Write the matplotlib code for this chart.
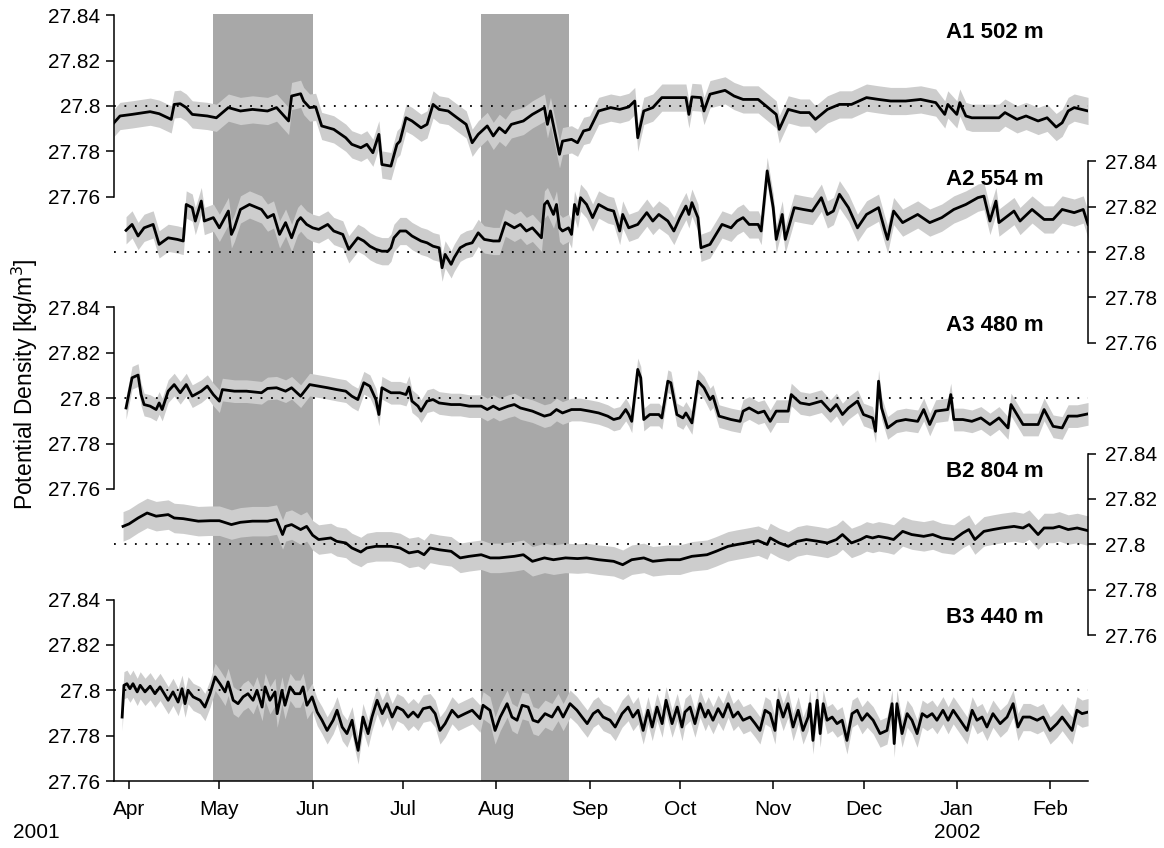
import numpy as np
import matplotlib
matplotlib.use("Agg")
import matplotlib.pyplot as plt
import matplotlib.dates as mdates
import matplotlib.transforms as mtransforms
import datetime as dt

plt.rcParams['font.family'] = ['Liberation Sans', 'DejaVu Sans']

# ---------------- data ----------------
REF_DATE = dt.datetime(2001, 4, 1)   # day 0 of the day arrays
X_START = dt.datetime(2001, 3, 27)
X_END = dt.datetime(2002, 2, 13, 14)

A1_days = [-5, -3, 1, 7, 10, 14, 15, 17, 19, 21,
           26, 29, 33, 37, 41, 46, 49, 53, 54, 57,
           58, 60, 62, 64, 68, 72, 74, 77, 79, 81,
           83, 84, 87, 89, 90, 92, 94, 97, 99, 101,
           103, 106, 109, 112, 114, 116, 119, 121, 123, 125,
           127, 131, 134, 136, 138, 139, 140, 143, 144, 147,
           149, 151, 153, 156, 160, 163, 166, 168, 169, 171,
           174, 177, 181, 185, 186, 187, 190, 191, 193, 198,
           201, 204, 209, 212, 215, 216, 219, 223, 226, 228,
           232, 236, 240, 245, 249, 253, 258, 263, 268, 271,
           272, 275, 276, 278, 280, 285, 289, 291, 295, 298,
           302, 305, 308, 310, 312, 314, 318.6]
A1_vals = [27.7926, 27.7956, 27.7963, 27.7975, 27.7966, 27.7941, 27.8007, 27.8010, 27.7993, 27.7963,
           27.7956, 27.7948, 27.7993, 27.7978, 27.7985, 27.7978, 27.7993, 27.7934, 27.8044, 27.8054,
           27.8022, 27.7993, 27.7996, 27.7912, 27.7897, 27.7860, 27.7831, 27.7816, 27.7831, 27.7794,
           27.7875, 27.7742, 27.7735, 27.7831, 27.7845, 27.7948, 27.7934, 27.7904, 27.7919, 27.8007,
           27.7985, 27.7978, 27.7948, 27.7919, 27.7838, 27.7875, 27.7912, 27.7868, 27.7904, 27.7882,
           27.7919, 27.7934, 27.7963, 27.7978, 27.7993, 27.7919, 27.7978, 27.7787, 27.7845, 27.7853,
           27.7838, 27.7890, 27.7897, 27.7978, 27.7993, 27.7985, 27.7996, 27.8022, 27.7860, 27.7978,
           27.7993, 27.8037, 27.8037, 27.8037, 27.7963, 27.8040, 27.8037, 27.7978, 27.8052, 27.8069,
           27.8044, 27.8029, 27.8029, 27.7996, 27.7963, 27.7897, 27.7985, 27.7971, 27.7971, 27.7941,
           27.7985, 27.8007, 27.8007, 27.8037, 27.8029, 27.8022, 27.8022, 27.8029, 27.8015, 27.7963,
           27.8007, 27.7963, 27.8015, 27.7956, 27.7948, 27.7948, 27.7948, 27.7971, 27.7941, 27.7956,
           27.7934, 27.7948, 27.7907, 27.7926, 27.7978, 27.7993, 27.7978]

A2_days = [-1, 1, 3, 5, 8, 10, 13, 16, 18, 19,
           21, 22, 24, 25, 28, 30, 33, 34, 35, 37,
           40, 44, 46, 48, 50, 52, 54, 56, 57, 59,
           61, 63, 66, 68, 71, 73, 76, 78, 80, 82,
           84, 86, 87, 88, 90, 92, 94, 97, 99, 101,
           103, 104, 105, 107, 108, 110, 112, 114, 116, 118,
           121, 123, 125, 128, 130, 132, 134, 137, 138, 139,
           141, 142, 143, 144, 146, 147, 148, 149, 150, 152,
           154, 156, 159, 161, 163, 164, 166, 169, 172, 174,
           176, 179, 181, 183, 185, 186, 187, 189, 190, 193,
           195, 197, 200, 202, 204, 206, 209, 210, 211, 212,
           214, 215, 217, 218, 221, 224, 227, 230, 232, 234,
           236, 239, 242, 245, 249, 251, 252, 254, 257, 262,
           266, 270, 274, 278, 282, 284, 286, 288, 289, 294,
           296, 300, 304, 307, 310, 314, 317, 318.6]
A2_vals = [27.8096, 27.8122, 27.8071, 27.8107, 27.8122, 27.8034, 27.8063, 27.8056, 27.8049, 27.8210,
           27.8196, 27.8137, 27.8225, 27.8137, 27.8152, 27.8107, 27.8181, 27.8078, 27.8107, 27.8188,
           27.8210, 27.8188, 27.8152, 27.8166, 27.8078, 27.8130, 27.8063, 27.8137, 27.8152, 27.8122,
           27.8107, 27.8100, 27.8122, 27.8093, 27.8078, 27.8012, 27.8063, 27.8049, 27.8026, 27.8012,
           27.8004, 27.8004, 27.8019, 27.8063, 27.8093, 27.8093, 27.8071, 27.8049, 27.8041, 27.8026,
           27.8019, 27.7931, 27.7990, 27.7946, 27.7975, 27.8019, 27.8034, 27.8041, 27.8085, 27.8056,
           27.8049, 27.8049, 27.8130, 27.8107, 27.8122, 27.8093, 27.8107, 27.8063, 27.8210, 27.8225,
           27.8166, 27.8210, 27.8107, 27.8093, 27.8107, 27.8078, 27.8210, 27.8166, 27.8240, 27.8210,
           27.8152, 27.8210, 27.8188, 27.8181, 27.8093, 27.8166, 27.8107, 27.8122, 27.8174, 27.8137,
           27.8166, 27.8137, 27.8093, 27.8152, 27.8203, 27.8166, 27.8218, 27.8152, 27.8019, 27.8034,
           27.8078, 27.8122, 27.8107, 27.8137, 27.8152, 27.8122, 27.8122, 27.8093, 27.8225, 27.8358,
           27.8196, 27.8056, 27.8166, 27.8056, 27.8196, 27.8188, 27.8181, 27.8240, 27.8166, 27.8181,
           27.8255, 27.8196, 27.8107, 27.8166, 27.8196, 27.8100, 27.8056, 27.8181, 27.8130, 27.8166,
           27.8130, 27.8152, 27.8188, 27.8210, 27.8240, 27.8247, 27.8137, 27.8225, 27.8130, 27.8181,
           27.8137, 27.8188, 27.8144, 27.8144, 27.8188, 27.8174, 27.8188, 27.8122]

A3_days = [-1, 1, 3, 4, 5, 7, 9, 10, 11, 13,
           15, 17, 19, 21, 24, 26, 28, 30, 31, 35,
           39, 44, 46, 49, 52, 54, 57, 60, 63, 66,
           69, 72, 74, 76, 78, 80, 82, 83, 84, 87,
           90, 92, 93, 94, 96, 97, 99, 101, 103, 107,
           110, 113, 117, 119, 121, 123, 126, 128, 130, 134,
           138, 140, 142, 144, 147, 150, 153, 156, 159, 161,
           163, 165, 166, 167, 169, 170, 171, 173, 176, 177,
           179, 180, 182, 184, 185, 187, 189, 191, 193, 194,
           196, 200, 203, 204, 206, 209, 211, 213, 215, 219,
           220, 223, 226, 230, 233, 235, 237, 239, 242, 244,
           247, 248, 249, 250, 252, 255, 258, 262, 264, 266,
           268, 272, 273, 274, 277, 280, 283, 286, 289, 292,
           293, 295, 297, 302, 304, 307, 310, 312, 315, 318.6]
A3_vals = [27.7957, 27.8090, 27.8102, 27.8016, 27.7972, 27.7965, 27.7950, 27.7979, 27.7950, 27.8031,
           27.8060, 27.8024, 27.8060, 27.8009, 27.8031, 27.8053, 27.8016, 27.7987, 27.8038, 27.8031,
           27.8031, 27.8024, 27.8043, 27.8046, 27.8031, 27.8046, 27.8009, 27.8060, 27.8053, 27.8046,
           27.8038, 27.8031, 27.8009, 27.7994, 27.8068, 27.8053, 27.7994, 27.7928, 27.8046, 27.8024,
           27.8024, 27.8016, 27.8049, 27.7987, 27.7965, 27.7943, 27.7987, 27.7994, 27.7979, 27.7972,
           27.7972, 27.7965, 27.7965, 27.7950, 27.7965, 27.7950, 27.7965, 27.7972, 27.7957, 27.7943,
           27.7921, 27.7928, 27.7950, 27.7935, 27.7950, 27.7950, 27.7943, 27.7935, 27.7921, 27.7906,
           27.7913, 27.7950, 27.7928, 27.7898, 27.8127, 27.8090, 27.7906, 27.7928, 27.7928, 27.7913,
           27.8075, 27.8068, 27.7928, 27.7913, 27.7935, 27.7891, 27.8075, 27.8046, 27.7994, 27.8009,
           27.7921, 27.7906, 27.7898, 27.7943, 27.7957, 27.7935, 27.7943, 27.7898, 27.7943, 27.7943,
           27.8016, 27.7979, 27.7972, 27.7987, 27.7943, 27.7972, 27.7928, 27.7957, 27.7987, 27.7928,
           27.7913, 27.7854, 27.8075, 27.7957, 27.7869, 27.7898, 27.7906, 27.7898, 27.7950, 27.7884,
           27.7943, 27.7950, 27.8016, 27.7906, 27.7906, 27.7898, 27.7913, 27.7884, 27.7913, 27.7869,
           27.7972, 27.7928, 27.7884, 27.7884, 27.7950, 27.7876, 27.7869, 27.7921, 27.7921, 27.7931]

B2_days = [-2, 0, 3, 6, 9, 13, 15, 18, 23, 27,
           30, 34, 37, 41, 46, 49, 51, 52, 54, 57,
           59, 61, 63, 67, 69, 72, 74, 77, 79, 82,
           87, 90, 93, 96, 98, 100, 103, 107, 110, 113,
           117, 120, 123, 128, 131, 134, 138, 141, 145, 149,
           152, 156, 161, 164, 167, 171, 174, 179, 183, 187,
           192, 195, 199, 202, 205, 209, 212, 213, 216, 219,
           222, 225, 229, 232, 235, 237, 240, 243, 245, 247,
           249, 252, 254, 257, 260, 264, 267, 270, 274, 277,
           279, 281, 284, 287, 290, 294, 297, 299, 302, 304,
           307, 309, 312, 315, 318.6]
B2_vals = [27.8079, 27.8090, 27.8116, 27.8138, 27.8124, 27.8131, 27.8116, 27.8113, 27.8102, 27.8104,
           27.8104, 27.8087, 27.8097, 27.8102, 27.8102, 27.8109, 27.8043, 27.8079, 27.8087, 27.8065,
           27.8079, 27.8040, 27.8021, 27.8028, 27.8013, 27.8006, 27.7984, 27.7966, 27.7984, 27.7991,
           27.7991, 27.7984, 27.7962, 27.7969, 27.7954, 27.7984, 27.7976, 27.7969, 27.7940, 27.7947,
           27.7954, 27.7940, 27.7940, 27.7947, 27.7954, 27.7925, 27.7940, 27.7932, 27.7940, 27.7937,
           27.7940, 27.7932, 27.7925, 27.7910, 27.7932, 27.7940, 27.7925, 27.7932, 27.7932, 27.7947,
           27.7954, 27.7969, 27.7991, 27.7999, 27.8006, 27.8016, 27.7999, 27.8028, 27.8006, 27.7991,
           27.8013, 27.8021, 27.8013, 27.8006, 27.8021, 27.8043, 27.8006, 27.8021, 27.8035, 27.8028,
           27.8035, 27.8028, 27.8021, 27.8057, 27.8043, 27.8035, 27.8043, 27.8028, 27.8021, 27.8050,
           27.8065, 27.8021, 27.8057, 27.8065, 27.8072, 27.8079, 27.8072, 27.8087, 27.8043, 27.8072,
           27.8072, 27.8079, 27.8065, 27.8072, 27.8060]

B3_days = [-2.3, -1.7, -0.7, 0.3, 1.3, 2.7, 3.7, 5.3, 7.0, 8.6,
           10.3, 12.0, 13.0, 14.6, 16.3, 17.6, 18.6, 19.6, 21.3, 23.6,
           25.2, 26.9, 28.6, 30.2, 31.9, 32.9, 34.6, 36.2, 37.9, 39.5,
           41.2, 42.5, 44.2, 45.2, 46.8, 48.5, 49.2, 50.8, 51.8, 53.5,
           55.1, 56.8, 57.8, 59.1, 60.8, 62.5, 64.1, 65.8, 67.8, 69.1,
           70.8, 72.4, 74.1, 75.1, 76.1, 77.7, 79.4, 80.7, 82.4, 84.1,
           85.7, 87.4, 89.0, 91.0, 92.7, 94.4, 96.0, 97.7, 100.0, 101.7,
           103.3, 105.0, 107.3, 109.3, 111.6, 114.0, 116.6, 117.6, 119.9, 121.6,
           123.3, 125.6, 127.2, 128.9, 130.6, 132.6, 134.2, 135.9, 138.2, 140.5,
           142.5, 144.2, 146.5, 148.8, 150.5, 152.2, 154.2, 155.8, 157.5, 159.8,
           161.5, 163.8, 165.8, 167.4, 169.1, 170.8, 172.4, 173.8, 175.4, 177.1,
           178.4, 180.4, 182.1, 183.7, 184.7, 186.4, 188.0, 189.7, 191.4, 192.4,
           194.0, 195.7, 197.3, 199.0, 200.7, 202.3, 204.0, 206.3, 208.0, 209.6,
           211.3, 213.0, 214.6, 215.6, 217.3, 218.9, 220.6, 222.3, 223.9, 225.6,
           226.2, 227.2, 228.6, 229.6, 230.6, 231.9, 233.6, 235.2, 236.9, 238.5,
           240.2, 241.9, 243.5, 245.2, 247.2, 249.5, 251.8, 253.5, 254.2, 255.1,
           256.8, 258.5, 260.1, 261.8, 263.5, 265.1, 266.8, 268.4, 270.4, 272.1,
           273.8, 276.1, 278.4, 280.1, 281.7, 283.4, 285.0, 287.0, 289.4, 291.7,
           293.7, 295.3, 297.0, 299.3, 301.7, 303.7, 306.0, 308.3, 310.0, 311.6,
           313.3, 314.9, 316.6, 318.6]
B3_vals = [27.7882, 27.8022, 27.8029, 27.8007, 27.8029, 27.7993, 27.8022, 27.7993, 27.8018, 27.7985,
           27.8015, 27.7978, 27.7956, 27.7993, 27.7948, 27.8007, 27.7941, 27.8000, 27.7971, 27.7956,
           27.7926, 27.7985, 27.8059, 27.8029, 27.7993, 27.8037, 27.7956, 27.7941, 27.7971, 27.7985,
           27.7956, 27.8000, 27.7926, 27.8015, 27.7956, 27.7993, 27.7897, 27.8000, 27.7934, 27.8015,
           27.7985, 27.7985, 27.8015, 27.7934, 27.7971, 27.7904, 27.7868, 27.7823, 27.7868, 27.7912,
           27.7838, 27.7809, 27.7868, 27.7794, 27.7735, 27.7882, 27.7809, 27.7882, 27.7956, 27.7897,
           27.7941, 27.7882, 27.7926, 27.7912, 27.7882, 27.7904, 27.7882, 27.7919, 27.7926, 27.7897,
           27.7823, 27.7853, 27.7912, 27.7882, 27.7897, 27.7912, 27.7875, 27.7934, 27.7912, 27.7823,
           27.7882, 27.7941, 27.7882, 27.7868, 27.7934, 27.7926, 27.7868, 27.7860, 27.7897, 27.7882,
           27.7926, 27.7882, 27.7941, 27.7912, 27.7882, 27.7853, 27.7897, 27.7912, 27.7882, 27.7868,
           27.7838, 27.7897, 27.7926, 27.7882, 27.7912, 27.7823, 27.7912, 27.7838, 27.7926, 27.7853,
           27.7956, 27.7853, 27.7926, 27.7838, 27.7904, 27.7926, 27.7853, 27.7941, 27.7882, 27.7912,
           27.7868, 27.7919, 27.7882, 27.7941, 27.7882, 27.7904, 27.7868, 27.7882, 27.7853, 27.7823,
           27.7912, 27.7897, 27.7823, 27.7956, 27.7882, 27.7941, 27.7838, 27.7912, 27.7823, 27.7882,
           27.7941, 27.7779, 27.7956, 27.7809, 27.7941, 27.7868, 27.7882, 27.7853, 27.7868, 27.7779,
           27.7897, 27.7912, 27.7868, 27.7897, 27.7868, 27.7809, 27.7823, 27.7941, 27.7765, 27.7941,
           27.7809, 27.7897, 27.7868, 27.7809, 27.7897, 27.7882, 27.7897, 27.7868, 27.7912, 27.7868,
           27.7912, 27.7868, 27.7823, 27.7912, 27.7868, 27.7882, 27.7838, 27.7897, 27.7853, 27.7882,
           27.7941, 27.7838, 27.7882, 27.7882, 27.7868, 27.7882, 27.7823, 27.7853, 27.7882, 27.7853,
           27.7823, 27.7912, 27.7897, 27.7904]

series_names = ["A1 502 m", "A2 554 m", "A3 480 m", "B2 804 m", "B3 440 m"]
series_days = [A1_days, A2_days, A3_days, B2_days, B3_days]
series_vals = [A1_vals, A2_vals, A3_vals, B2_vals, B3_vals]
series_sides = ["left", "right", "left", "right", "left"]
band_halfwidth = [0.006, 0.006, 0.005, 0.0065, 0.006]

shade_periods = [(dt.datetime(2001, 4, 29), dt.datetime(2001, 6, 1)),
                 (dt.datetime(2001, 7, 27), dt.datetime(2001, 8, 25))]

ref_level = 27.8
ytick_vals = [27.76, 27.78, 27.80, 27.82, 27.84]
ytick_labels = ["27.76", "27.78", "27.8", "27.82", "27.84"]
ylabel = "Potential Density [kg/m$^3$]"

# ---------------- layout ----------------
W, Hf = 1164, 848
fig = plt.figure(figsize=(W / 100, Hf / 100), dpi=100)

ax_left_px, ax_right_px = 114, 1088
ax_top_px, ax_bot_px = 14, 781
px_per_unit = 2268.0
ref_px0, ref_step = 106.0, 146.1

rect = [ax_left_px / W, 1 - ax_bot_px / Hf,
        (ax_right_px - ax_left_px) / W, (ax_bot_px - ax_top_px) / Hf]

FS = 15
LW_AX = 1.1

base = fig.add_axes(rect)
base.set_xlim(mdates.date2num(X_START), mdates.date2num(X_END))
base.set_ylim(0, 1)
for s in ["left", "right", "top"]:
    base.spines[s].set_visible(False)
base.spines["bottom"].set_linewidth(LW_AX)
base.set_yticks([])
base.xaxis.set_major_locator(mdates.MonthLocator())
base.xaxis.set_major_formatter(mdates.DateFormatter("%b"))
base.tick_params(axis="x", direction="out", length=6, width=LW_AX,
                 labelsize=FS, pad=8)
for (s0, s1) in shade_periods:
    base.axvspan(mdates.date2num(s0), mdates.date2num(s1),
                 color="#a8a8a8", lw=0, zorder=0)

ref_num = mdates.date2num(REF_DATE)
for i, name in enumerate(series_names):
    ax = fig.add_axes(rect, sharex=base)
    ax.patch.set_visible(False)
    y_ref = ref_px0 + ref_step * i
    lo = ref_level - (ax_bot_px - y_ref) / px_per_unit
    hi = lo + (ax_bot_px - ax_top_px) / px_per_unit
    ax.set_ylim(lo, hi)
    x = ref_num + np.asarray(series_days[i], dtype=float)
    v = np.asarray(series_vals[i])
    e = band_halfwidth[i]
    ax.fill_between(x, v - e, v + e, color="#cdcdcd", lw=0, zorder=1)
    ax.axhline(ref_level, color="black", lw=1.3, ls=(0, (1, 4.8)), zorder=2)
    ax.plot(x, v, color="black", lw=2.0, zorder=3)
    side = series_sides[i]
    for s in ["left", "right", "top", "bottom"]:
        ax.spines[s].set_visible(s == side)
    ax.spines[side].set_bounds(ytick_vals[0], ytick_vals[-1])
    ax.spines[side].set_linewidth(LW_AX)
    ax.tick_params(axis="x", which="both", bottom=False, top=False,
                   labelbottom=False)
    if side == "right":
        ax.yaxis.tick_right()
    ax.set_yticks(ytick_vals)
    ax.set_yticklabels(ytick_labels)
    ax.tick_params(axis="y", direction="out", length=6, width=LW_AX,
                   labelsize=FS, pad=4 if side == "left" else 6)
    ax.text(0.954, ref_level + 0.0322, name,
            transform=mtransforms.blended_transform_factory(ax.transAxes, ax.transData),
            ha="right", va="center", fontsize=16, fontweight="bold")

fig.text(25 / W, 1 - 384 / Hf, ylabel, rotation=90, ha="center", va="center",
         fontsize=16.5)
fig.text(13 / W, 1 - 832 / Hf, "2001", ha="left", va="center", fontsize=FS)
base.annotate("2002", xy=(mdates.date2num(dt.datetime(2002, 1, 1)), 0),
              xycoords=("data", "axes fraction"),
              xytext=(0, -(832 - ax_bot_px)), textcoords="offset pixels",
              ha="center", va="center", fontsize=FS)

fig.savefig("out.png", dpi=100)
